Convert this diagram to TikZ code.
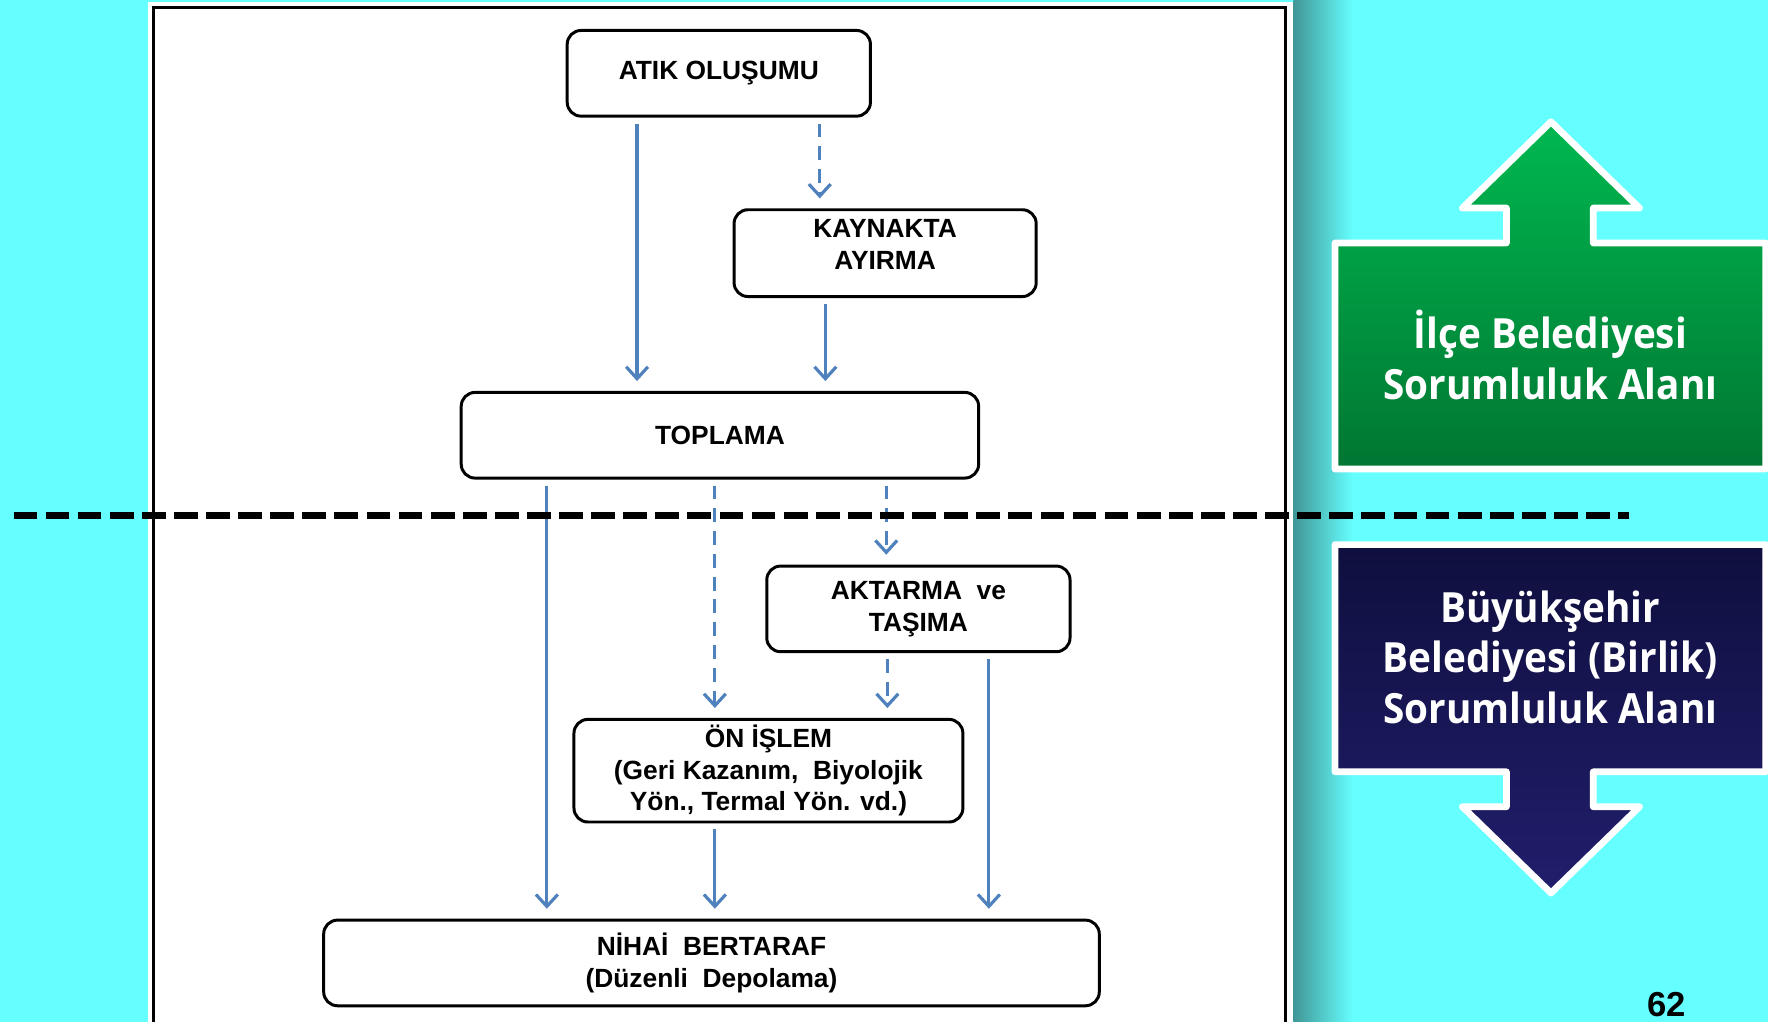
\documentclass[tikz,border=0pt]{standalone}
\usepackage{fontspec}
\setmainfont{Liberation Sans}
\newfontfamily\sidefont{Open Sans}[FakeStretch=0.93]
\usetikzlibrary{arrows.meta,positioning}

\definecolor{bgcyan}{RGB}{102,255,255}
\definecolor{flowblue}{RGB}{79,129,189}
\definecolor{edgeteal}{RGB}{64,150,150}
\definecolor{greentop}{RGB}{0,184,80}
\definecolor{greenbot}{RGB}{0,118,50}
\definecolor{navytop}{RGB}{15,15,62}
\definecolor{navybot}{RGB}{33,30,108}

\tikzset{
  stage/.style={draw, line width=1.5pt, rounded corners=7pt, align=center,
    font=\bfseries\fontsize{13.3}{16}\selectfont, inner sep=2pt},
  flow/.style={draw=flowblue, line width=1.6pt,
    -{Straight Barb[length=6pt,width=11pt]}, shorten <=3pt, shorten >=5pt},
  weak/.style={flow, dash pattern=on 7pt off 4.5pt},
  zone/.style={draw=white, line width=3.4pt, line join=round},
  zonetext/.style={text=white, align=center,
    font=\sidefont\bfseries\fontsize{21}{25.5}\selectfont}
}

\begin{document}
\begin{tikzpicture}[x=0.02cm,y=-0.02cm]

\clip (0,0) rectangle (1568,905.5);
\fill[bgcyan] (-5,-5) rectangle (1575,915);

% white sheet with its shadow
\shade[left color=edgeteal, right color=bgcyan] (1147,-5) rectangle (1200,915);
\fill[white] (131,2) rectangle (1147,915);
\draw[line width=1.5pt] (136,7) rectangle (1140,920);

% stages
\node[stage, minimum width=5.38cm, minimum height=1.52cm] (atik) at (637.5,65) {ATIK OLUŞUMU};
\node[stage, minimum width=5.36cm, minimum height=1.54cm, text depth=0.3cm] (kaynak) at (785,224.5) {KAYNAKTA\\AYIRMA};
\node[stage, minimum width=9.18cm, minimum height=1.52cm] (toplama) at (638.5,386) {TOPLAMA};
\node[stage, minimum width=5.38cm, minimum height=1.52cm] (aktarma) at (814.5,540) {AKTARMA~ ve\\TAŞIMA};
\node[stage, minimum width=6.9cm, minimum height=1.82cm] (onislem) at (681.5,683.5) {ÖN İŞLEM\\(Geri Kazanım,~ Biyolojik\\Yön., Termal Yön. vd.)};
\node[stage, minimum width=13.76cm, minimum height=1.52cm] (nihai) at (631,854) {NİHAİ~ BERTARAF\\(Düzenli~ Depolama)};

\foreach \from/\to/\col/\kind in {atik/toplama/565/flow, atik/kaynak/727/weak,
    kaynak/toplama/732/flow, toplama/nihai/485/flow, toplama/onislem/634/weak,
    toplama/aktarma/786/weak, aktarma/onislem/787/weak, aktarma/nihai/877/flow,
    onislem/nihai/634/flow}
  \draw[\kind] (\from.south -| \col,0) -- (\to.north -| \col,0);

% border between the two areas
\draw[line width=3.7pt, dash pattern=on 12pt off 4.2pt] (12,457) -- (1445,457);

% responsibility areas
\shade[zone, top color=greentop, bottom color=greenbot]
  (1184,416) -- (1184,215.5) -- (1336,215.5) -- (1336,184.5) -- (1297,184.5)
  -- (1375.5,108) -- (1454,184.5) -- (1413,184.5) -- (1413,215.5)
  -- (1566,215.5) -- (1566,416) -- cycle;
\node[zonetext] (ilce) at (1375,315) {İlçe Belediyesi\\Sorumluluk Alanı};

\shade[zone, top color=navytop, bottom color=navybot]
  (1184,483) -- (1566,483) -- (1566,684.5) -- (1413,684.5) -- (1413,715.5)
  -- (1454,715.5) -- (1375.5,792) -- (1297,715.5) -- (1336,715.5)
  -- (1336,684.5) -- (1184,684.5) -- cycle;
\node[zonetext] (bsb) at (1375,583) {Büyükşehir\\Belediyesi (Birlik)\\Sorumluluk Alanı};

\node[font=\bfseries\fontsize{17.5}{18}\selectfont, anchor=south, inner sep=0pt] (sayfa) at (1478,902) {62};

\end{tikzpicture}
\end{document}
